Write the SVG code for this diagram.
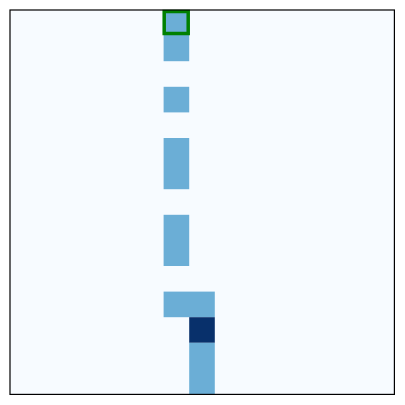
<svg xmlns="http://www.w3.org/2000/svg" width="405" height="405" viewBox="0 0 405 405">
<style>.c{fill:#6baed6}.d{fill:#08306b}</style>
<rect width="405" height="405" fill="#ffffff"/>
<rect x="10" y="10" width="384.4" height="384.4" fill="#f7fbff"/>
<g id="cells">
<rect class="c" x="163.6" y="10" width="25.6" height="51.2"/>
<rect class="c" x="163.6" y="86.8" width="25.6" height="25.6"/>
<rect class="c" x="163.6" y="138" width="25.6" height="51.2"/>
<rect class="c" x="163.6" y="214.8" width="25.6" height="51.2"/>
<rect class="c" x="163.6" y="291.6" width="51.2" height="25.6"/>
<rect class="d" x="189.2" y="317.2" width="25.6" height="25.6"/>
<rect class="c" x="189.2" y="342.8" width="25.6" height="51.6"/>
</g>
<g id="marker">
<rect x="164.2" y="11.5" width="24" height="22" fill="none" stroke="#008000" stroke-width="3.5"/>
</g>
<rect x="10" y="10" width="384.4" height="384.4" fill="none" stroke="#000" stroke-width="1.2"/>
</svg>
